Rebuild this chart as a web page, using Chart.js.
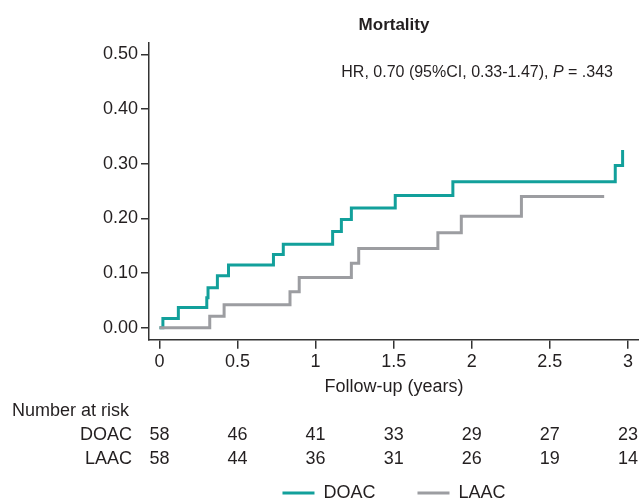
<!DOCTYPE html>
<html>
<head>
<meta charset="utf-8">
<script src="https://cdn.jsdelivr.net/npm/chart.js@4"></script>
<style>
  html, body { margin: 0; padding: 0; background: #fff; }
  #wrap { width: 639px; height: 502px; }
</style>
</head>
<body>
<div id="wrap"><canvas id="kmChart"></canvas></div>
<script>
// step times (years) and cumulative mortality after each step
const doacTimes = [0, 0.022, 0.121, 0.303, 0.311, 0.371, 0.442, 0.730, 0.793, 1.109, 1.165, 1.229, 1.510, 1.879, 2.919, 2.966];
const doacRisk  = [0, 0.017, 0.037, 0.055, 0.073, 0.095, 0.115, 0.134, 0.153, 0.176, 0.198, 0.219, 0.242, 0.267, 0.297, 0.325];
const laacTimes = [0, 0.322, 0.414, 0.836, 0.895, 1.229, 1.276, 1.783, 1.933, 2.318, 2.848];
const laacRisk  = [0, 0.021, 0.042, 0.066, 0.092, 0.118, 0.145, 0.174, 0.204, 0.240, 0.240];

const xTicks = [0, 0.5, 1, 1.5, 2, 2.5, 3];
const yTicks = [0, 0.1, 0.2, 0.3, 0.4, 0.5];

// number at risk table
const riskTimes  = [0, 0.5, 1, 1.5, 2, 2.5, 3];
const doacAtRisk = [58, 46, 41, 33, 29, 27, 23];
const laacAtRisk = [58, 44, 36, 31, 26, 19, 14];

const seriesNames = ['DOAC', 'LAAC'];
const teal = '#12a09b';
const grey = '#9c9da1';
const ink = '#231f20';
const FONT = '"Liberation Sans", Arial, Helvetica, sans-serif';

function toPoints(times, vals) {
    return times.map((t, i) => ({ x: t, y: vals[i] }));
}

const riskTable = {
    id: 'riskTable',
    afterDraw(chart) {
        const ctx = chart.ctx;
        const xs = chart.scales.x;
        ctx.save();
        ctx.fillStyle = ink;
        ctx.font = '18px ' + FONT;
        ctx.textBaseline = 'middle';

        ctx.textAlign = 'left';
        ctx.fillText('Number at risk', 12, 411);
        ctx.textAlign = 'right';
        ctx.fillText(seriesNames[0], 132, 435);
        ctx.fillText(seriesNames[1], 132, 459);
        ctx.textAlign = 'center';
        riskTimes.forEach((t, i) => {
            const px = xs.getPixelForValue(t);
            ctx.fillText(String(doacAtRisk[i]), px, 435);
            ctx.fillText(String(laacAtRisk[i]), px, 459);
        });

        // hazard ratio note, P in italics
        const parts = [
            ['HR, 0.70 (95%CI, 0.33-1.47), ', 'normal'],
            ['P', 'italic'],
            [' = .343', 'normal']
        ];
        ctx.textAlign = 'left';
        let total = 0;
        parts.forEach(p => {
            ctx.font = p[1] + ' 16px ' + FONT;
            total += ctx.measureText(p[0]).width;
        });
        let x = chart.chartArea.right - 26 - total;
        parts.forEach(p => {
            ctx.font = p[1] + ' 16px ' + FONT;
            ctx.fillText(p[0], x, 73);
            x += ctx.measureText(p[0]).width;
        });
        ctx.restore();
    }
};

const ctx = document.getElementById('kmChart');

new Chart(ctx, {
    type: 'line',
    data: {
        datasets: [{
            label: seriesNames[0],
            data: toPoints(doacTimes, doacRisk),
            borderColor: teal,
            backgroundColor: teal,
            borderWidth: 3,
            stepped: 'before',
            pointRadius: 0,
            fill: false,
            order: 1
        }, {
            label: seriesNames[1],
            data: toPoints(laacTimes, laacRisk),
            borderColor: grey,
            backgroundColor: grey,
            borderWidth: 3,
            stepped: 'before',
            pointRadius: 0,
            fill: false,
            order: 0 // grey drawn on top along the zero line
        }]
    },
    options: {
        responsive: true,
        maintainAspectRatio: false,
        animation: false,
        layout: { padding: { left: 0, right: 0, top: 0, bottom: -10 } },
        plugins: {
            tooltip: { enabled: false },
            title: {
                display: true,
                text: 'Mortality',
                fullSize: false,
                color: ink,
                font: { family: FONT, size: 17, weight: 'bold' },
                padding: { top: 15, bottom: 7 }
            },
            legend: {
                position: 'bottom',
                fullSize: false,
                labels: {
                    usePointStyle: true,
                    pointStyle: 'line',
                    pointStyleWidth: 32,
                    color: ink,
                    padding: 42,
                    font: { family: FONT, size: 18 },
                    sort: (a, b) => a.datasetIndex - b.datasetIndex
                }
            }
        },
        scales: {
            x: {
                type: 'linear',
                min: -0.067,
                max: 3.071,
                afterBuildTicks: (scale) => { scale.ticks = xTicks.map(v => ({ value: v })); },
                ticks: {
                    color: ink,
                    padding: 2,
                    maxRotation: 0,
                    font: { family: FONT, size: 18 },
                    callback: (v) => String(v)
                },
                grid: { drawOnChartArea: false, tickLength: 9, color: '#333', lineWidth: 1.5 },
                border: { display: true, color: '#333', width: 1.5 },
                title: {
                    display: true,
                    text: 'Follow-up (years)',
                    color: ink,
                    font: { family: FONT, size: 18 },
                    padding: { top: 2, bottom: 44 }
                }
            },
            y: {
                min: -0.022,
                max: 0.522,
                afterBuildTicks: (scale) => { scale.ticks = yTicks.map(v => ({ value: v })); },
                afterFit: (scale) => { scale.width = 149; },
                ticks: {
                    color: ink,
                    padding: 3,
                    font: { family: FONT, size: 18 },
                    callback: (v) => Number(v).toFixed(2)
                },
                grid: { drawOnChartArea: false, tickLength: 8, color: '#333', lineWidth: 1.5 },
                border: { display: true, color: '#333', width: 1.5 }
            }
        }
    },
    plugins: [riskTable]
});
</script>
</body>
</html>
